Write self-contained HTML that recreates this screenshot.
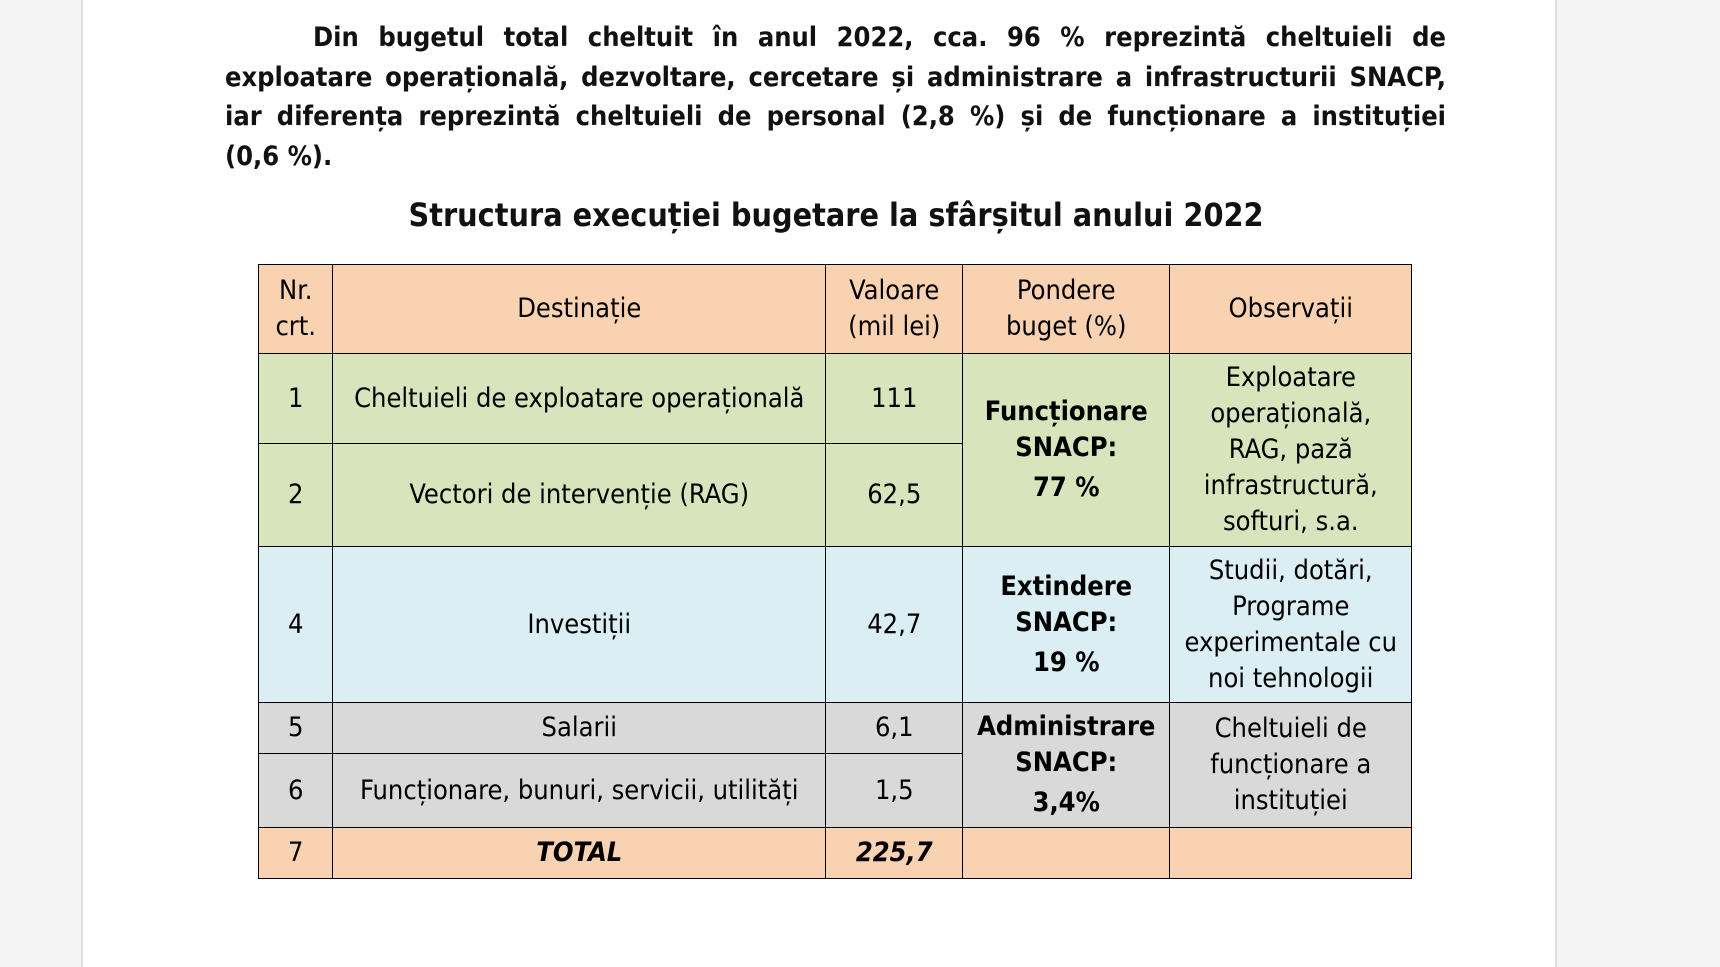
<!DOCTYPE html>
<html><head><meta charset="utf-8"><style>
body{margin:0;width:1720px;height:967px;background:#f4f4f4;position:relative;overflow:hidden;font-family:"DejaVu Sans Condensed","DejaVu Sans",sans-serif;color:#111}
.page{position:absolute;left:81px;top:0;width:1472px;height:967px;background:#fff;border-left:2px solid #ddd;border-right:2px solid #ddd}
.p{position:absolute;left:225px;width:1221px;font-size:27px;font-weight:bold;text-align:justify;text-align-last:justify;white-space:nowrap;line-height:28px}
.title{position:absolute;left:-24px;width:1720px;top:197px;text-align:center;font-size:32px;font-weight:bold;line-height:36px}
.c{position:absolute;box-sizing:border-box;border:1.5px solid #000;display:flex;align-items:center;justify-content:center;text-align:center;font-size:27px;line-height:36px;margin:-0.75px 0 0 -0.75px;color:#000}
.h{background:#f9d3b1}.g{background:#d8e4bc}.b{background:#daeef3}.k{background:#d9d9d9}
</style></head><body>
<div class="page"></div>
<div class="p" style="top:24px;left:313px;width:1133px">Din bugetul total cheltuit în anul 2022, cca. 96 % reprezintă cheltuieli de</div>
<div class="p" style="top:64px">exploatare operațională, dezvoltare, cercetare și administrare a infrastructurii SNACP,</div>
<div class="p" style="top:103px">iar diferența reprezintă cheltuieli de personal (2,8 %) și de funcționare a instituției</div>
<div class="p" style="top:143px;text-align-last:left">(0,6 %).</div>
<div class="title">Structura execuției bugetare la sfârșitul anului 2022</div>

<div class="c h" style="left:259px;top:265px;width:75px;height:90px">Nr.<br>crt.</div>
<div class="c h" style="left:333px;top:265px;width:494px;height:90px">Destinație</div>
<div class="c h" style="left:826px;top:265px;width:138px;height:90px">Valoare<br>(mil lei)</div>
<div class="c h" style="left:963px;top:265px;width:208px;height:90px">Pondere<br>buget (%)</div>
<div class="c h" style="left:1170px;top:265px;width:243px;height:90px">Observații</div>

<div class="c g" style="left:259px;top:354px;width:75px;height:91px">1</div>
<div class="c g" style="left:333px;top:354px;width:494px;height:91px">Cheltuieli de exploatare operațională</div>
<div class="c g" style="left:826px;top:354px;width:138px;height:91px">111</div>
<div class="c g" style="left:259px;top:444px;width:75px;height:104px">2</div>
<div class="c g" style="left:333px;top:444px;width:494px;height:104px">Vectori de intervenție (RAG)</div>
<div class="c g" style="left:826px;top:444px;width:138px;height:104px">62,5</div>
<div class="c g" style="left:963px;top:354px;width:208px;height:194px;font-weight:bold"><div>Funcționare<br>SNACP:<br><span style="display:block;margin-top:4px">77 %</span></div></div>
<div class="c g" style="left:1170px;top:354px;width:243px;height:194px">Exploatare<br>operațională,<br>RAG, pază<br>infrastructură,<br>softuri, s.a.</div>

<div class="c b" style="left:259px;top:547px;width:75px;height:157px">4</div>
<div class="c b" style="left:333px;top:547px;width:494px;height:157px">Investiții</div>
<div class="c b" style="left:826px;top:547px;width:138px;height:157px">42,7</div>
<div class="c b" style="left:963px;top:547px;width:208px;height:157px;font-weight:bold"><div>Extindere<br>SNACP:<br><span style="display:block;margin-top:4px">19 %</span></div></div>
<div class="c b" style="left:1170px;top:547px;width:243px;height:157px">Studii, dotări,<br>Programe<br>experimentale cu<br>noi tehnologii</div>

<div class="c k" style="left:259px;top:703px;width:75px;height:52px">5</div>
<div class="c k" style="left:333px;top:703px;width:494px;height:52px">Salarii</div>
<div class="c k" style="left:826px;top:703px;width:138px;height:52px">6,1</div>
<div class="c k" style="left:259px;top:754px;width:75px;height:75px">6</div>
<div class="c k" style="left:333px;top:754px;width:494px;height:75px">Funcționare, bunuri, servicii, utilități</div>
<div class="c k" style="left:826px;top:754px;width:138px;height:75px">1,5</div>
<div class="c k" style="left:963px;top:703px;width:208px;height:126px;font-weight:bold"><div>Administrare<br>SNACP:<br><span style="display:block;margin-top:4px">3,4%</span></div></div>
<div class="c k" style="left:1170px;top:703px;width:243px;height:126px">Cheltuieli de<br>funcționare a<br>instituției</div>

<div class="c h" style="left:259px;top:828px;width:75px;height:52px">7</div>
<div class="c h" style="left:333px;top:828px;width:494px;height:52px;font-weight:bold;font-style:italic">TOTAL</div>
<div class="c h" style="left:826px;top:828px;width:138px;height:52px;font-weight:bold;font-style:italic">225,7</div>
<div class="c h" style="left:963px;top:828px;width:208px;height:52px"></div>
<div class="c h" style="left:1170px;top:828px;width:243px;height:52px"></div>
</body></html>
